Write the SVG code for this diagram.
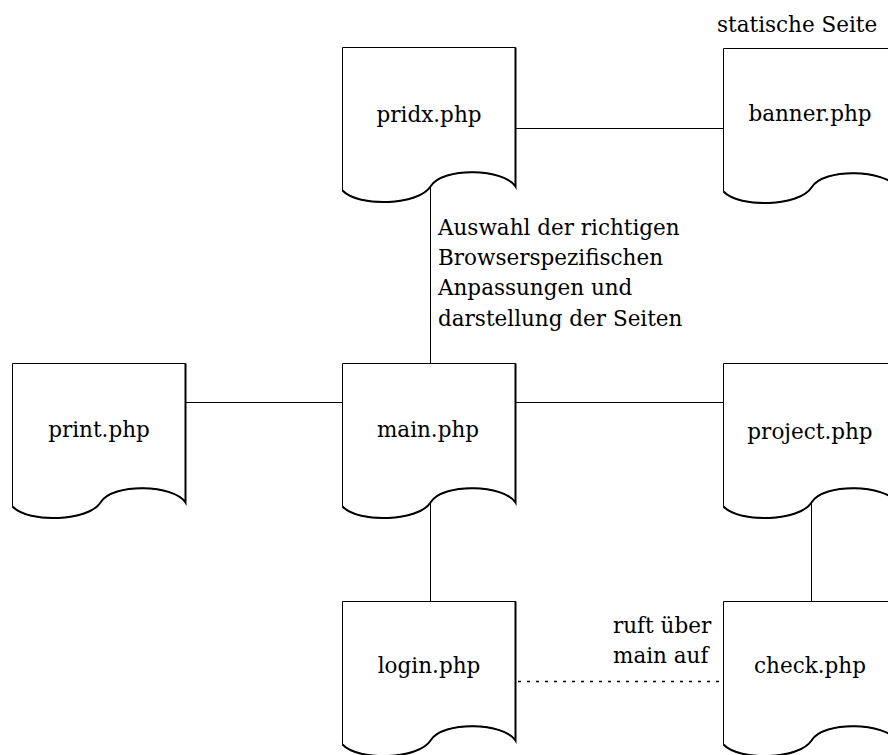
<svg xmlns="http://www.w3.org/2000/svg" width="888" height="755" viewBox="0 0 888 755">
<style>
  .doc { fill: #ffffff; stroke: #000000; stroke-width: 1; }
  .edge { fill: none; stroke: #000000; stroke-width: 2; }
  .conn { fill: none; stroke: #000000; stroke-width: 1; }
  .dot { stroke-width: 1.5; stroke-dasharray: 3 6; }
  text { font-family: "DejaVu Serif", "Liberation Serif", serif; font-size: 21.5px; fill: #000000; }
  .lbl { text-anchor: middle; }
</style>
<defs>
  <g id="docshape">
    <path class="doc" d="M0,0 H173 V139 C162,121 100,119 88,139 C76,158 16,160 0,143 Z"/>
    <path class="edge" d="M173,0 V139 C162,121 100,119 88,139 C76,158 16,160 0,143"/>
  </g>
</defs>
<rect x="0" y="0" width="888" height="755" fill="#ffffff"/>
<g id="connectors">
  <line class="conn" x1="515" y1="128.5" x2="723" y2="128.5"/>
  <line class="conn" x1="430.5" y1="186" x2="430.5" y2="363"/>
  <line class="conn" x1="185" y1="402.5" x2="342" y2="402.5"/>
  <line class="conn" x1="515" y1="402.5" x2="723" y2="402.5"/>
  <line class="conn" x1="430.5" y1="502" x2="430.5" y2="601"/>
  <line class="conn" x1="811.5" y1="502" x2="811.5" y2="601"/>
  <line class="conn dot" x1="518" y1="681.5" x2="723" y2="681.5"/>
</g>
<g id="pridx">
  <use href="#docshape" transform="translate(342.5,47.5)"/>
  <text class="lbl" x="429" y="122">pridx.php</text>
</g>
<g id="banner">
  <use href="#docshape" transform="translate(723.5,48.5)"/>
  <text class="lbl" x="810" y="121">banner.php</text>
</g>
<g id="print">
  <use href="#docshape" transform="translate(12.5,363.5)"/>
  <text class="lbl" x="99" y="437">print.php</text>
</g>
<g id="main">
  <use href="#docshape" transform="translate(342.5,363.5)"/>
  <text class="lbl" x="428" y="437">main.php</text>
</g>
<g id="project">
  <use href="#docshape" transform="translate(723.5,363.5)"/>
  <text class="lbl" x="810" y="439">project.php</text>
</g>
<g id="login">
  <use href="#docshape" transform="translate(342.5,601.5)"/>
  <text class="lbl" x="429" y="673">login.php</text>
</g>
<g id="check">
  <use href="#docshape" transform="translate(723.5,601.5)"/>
  <text class="lbl" x="810" y="673">check.php</text>
</g>
<g id="labels">
  <text x="717" y="32">statische Seite</text>
  <text x="438" y="235">Auswahl der richtigen</text>
  <text x="438" y="265">Browserspezifischen</text>
  <text x="438" y="295">Anpassungen und</text>
  <text x="438" y="326">darstellung der Seiten</text>
  <text x="613" y="633">ruft über</text>
  <text x="613" y="663">main auf</text>
</g>
</svg>
